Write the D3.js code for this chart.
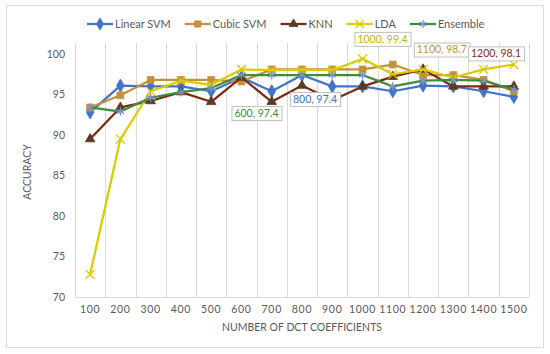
<!DOCTYPE html>
<html>
<head>
<meta charset="utf-8">
<script src="https://cdn.jsdelivr.net/npm/d3@7"></script>
<style>
  html, body { margin: 0; padding: 0; background: #fff; }
  svg { display: block; font-family: Lato, "Liberation Sans", sans-serif; }
</style>
</head>
<body>
<div id="chart"></div>
<script>
// data
const coefficients = [100, 200, 300, 400, 500, 600, 700, 800, 900, 1000, 1100, 1200, 1300, 1400, 1500];
const linearSVM = [92.8, 96.1, 96.0, 96.0, 95.4, 97.1, 95.4, 97.4, 96.0, 96.0, 95.4, 96.1, 96.0, 95.4, 94.7];
const cubicSVM = [93.4, 94.9, 96.8, 96.8, 96.8, 96.6, 98.1, 98.1, 98.1, 98.1, 98.7, 97.4, 97.4, 96.8, 95.4];
const knn = [89.5, 93.4, 94.2, 95.3, 94.1, 97.1, 94.1, 96.1, 94.3, 96.0, 97.2, 98.1, 96.0, 96.0, 96.0];
const lda = [72.8, 89.5, 95.4, 96.7, 96.2, 98.1, 98.0, 98.0, 98.0, 99.4, 97.5, 98.1, 97.1, 98.1, 98.7];
const ensemble = [93.4, 92.9, 94.6, 95.3, 95.8, 97.4, 97.4, 97.4, 97.4, 97.4, 96.0, 96.7, 96.8, 96.7, 95.6];
const yTicks = [70, 75, 80, 85, 90, 95, 100];

const series = [
  { name: "Linear SVM", values: linearSVM, line: "#4472C4", marker: "#4472C4", symbol: d3.symbolDiamond, size: 50, stroke: false },
  { name: "Cubic SVM", values: cubicSVM, line: "#C4913A", marker: "#C4913A", symbol: d3.symbolSquare, size: 46, stroke: false },
  { name: "KNN", values: knn, line: "#7A2A14", marker: "#5A3A22", symbol: d3.symbolTriangle, size: 40, stroke: false },
  { name: "LDA", values: lda, line: "#DCCB00", marker: "#DCCB00", symbol: d3.symbolTimes, size: 52, stroke: true },
  { name: "Ensemble", values: ensemble, line: "#3C8C3C", marker: "#7B93CC", symbol: d3.symbolAsterisk, size: 52, stroke: true },
];

// manual data labels (series, category, label offset from the point)
const callouts = [
  { series: "LDA", at: 1000, dx: 20, dy: -20, color: "#C8B400" },
  { series: "Cubic SVM", at: 1100, dx: 49, dy: -15, color: "#C4913A" },
  { series: "KNN", at: 1200, dx: 73, dy: -16, color: "#8B2A1A" },
  { series: "Ensemble", at: 600, dx: 15, dy: 38, color: "#3C8C3C" },
  { series: "Linear SVM", at: 800, dx: 13, dy: 24, color: "#4472C4" },
];

const W = 550, H = 354;
const plot = { left: 75, right: 529, top: 43, bottom: 297 };

const svg = d3.select("#chart").append("svg").attr("width", W).attr("height", H);

svg.append("rect")
  .attr("x", 6.5).attr("y", 5.5)
  .attr("width", 537).attr("height", 342)
  .attr("fill", "#fff").attr("stroke", "#D9D9D9");

const x = d3.scaleBand().domain(coefficients).range([plot.left, plot.right]);
const y = d3.scaleLinear().domain([70, 100]).range([plot.bottom, 54]);
const cx = (c) => x(c) + x.bandwidth() / 2;

// vertical gridlines at category boundaries
const bounds = coefficients.map((c) => x(c)).concat([plot.right]);
svg.append("g")
  .selectAll("line")
  .data(bounds)
  .join("line")
  .attr("x1", (d) => Math.round(d) + 0.5).attr("x2", (d) => Math.round(d) + 0.5)
  .attr("y1", plot.top).attr("y2", plot.bottom)
  .attr("stroke", "#D9D9D9").attr("stroke-width", 1);

svg.append("line")
  .attr("x1", plot.left).attr("x2", plot.right)
  .attr("y1", plot.bottom + 0.5).attr("y2", plot.bottom + 0.5)
  .attr("stroke", "#D9D9D9");

// x axis labels
const xAxis = svg.append("g")
  .attr("transform", `translate(0,${plot.bottom})`)
  .call(d3.axisBottom(x).tickSize(0).tickPadding(9));
xAxis.select(".domain").remove();
xAxis.selectAll("text")
  .attr("fill", "#595959")
  .style("font-family", "Lato, sans-serif")
  .style("font-size", "10.5px")
  .style("letter-spacing", "0.7px");

// y axis labels
const yAxis = svg.append("g")
  .attr("transform", `translate(${plot.left},0)`)
  .call(d3.axisLeft(y).tickValues(yTicks).tickSize(0).tickPadding(10));
yAxis.select(".domain").remove();
yAxis.selectAll("text")
  .attr("fill", "#595959")
  .style("font-family", "Lato, sans-serif")
  .style("font-size", "10.5px");

// axis titles
svg.append("text")
  .attr("x", (plot.left + plot.right) / 2)
  .attr("y", 331)
  .attr("text-anchor", "middle")
  .attr("fill", "#595959")
  .style("font-size", "10.5px")
  .text("NUMBER OF DCT COEFFICIENTS");

svg.append("text")
  .attr("transform", `translate(31,${(plot.top + plot.bottom) / 2 + 2}) rotate(-90)`)
  .attr("text-anchor", "middle")
  .attr("fill", "#595959")
  .style("font-size", "10.5px")
  .text("ACCURACY");

// lines + markers
const line = d3.line().x((d, i) => cx(coefficients[i])).y((d) => y(d));
const symbolPath = (s, k = 1) => d3.symbol().type(s.symbol).size(s.size * k)();

series.forEach((s) => {
  const g = svg.append("g");
  g.append("path")
    .datum(s.values)
    .attr("d", line)
    .attr("fill", "none")
    .attr("stroke", s.line)
    .attr("stroke-width", 2.25)
    .attr("stroke-linejoin", "round");
  g.selectAll("path.mk")
    .data(s.values)
    .join("path")
    .attr("class", "mk")
    .attr("transform", (d, i) => `translate(${cx(coefficients[i])},${y(d)})`)
    .attr("d", symbolPath(s))
    .attr("fill", s.stroke ? "none" : s.marker)
    .attr("stroke", s.marker)
    .attr("stroke-width", s.stroke ? 1.3 : 0.8);
});

// callout labels
callouts.forEach((c) => {
  const s = series.find((d) => d.name === c.series);
  const i = coefficients.indexOf(c.at);
  const v = s.values[i];
  const px = cx(c.at) + c.dx, py = y(v) + c.dy;
  const g = svg.append("g").attr("transform", `translate(${px},${py})`);
  const t = g.append("text")
    .attr("text-anchor", "middle")
    .attr("dy", "0.35em")
    .attr("fill", c.color)
    .style("font-size", "10.5px")
    .text(`${c.at}, ${v}`);
  const b = t.node().getBBox();
  g.insert("rect", "text")
    .attr("x", Math.round(b.x - 3) + 0.5)
    .attr("y", Math.round(b.y - 1) + 0.5)
    .attr("width", Math.round(b.width + 6))
    .attr("height", Math.round(b.height + 2))
    .attr("fill", "#fff")
    .attr("stroke", "#BFBFBF");
});

// legend
const legend = svg.append("g").attr("transform", "translate(0,24)");
let lx = 0;
const items = legend.selectAll("g").data(series).join("g");
items.each(function (s) {
  const g = d3.select(this);
  g.append("line").attr("x1", 0).attr("x2", 26).attr("stroke", s.line).attr("stroke-width", 2.25);
  g.append("path")
    .attr("transform", "translate(13,0)")
    .attr("d", symbolPath(s, 0.85))
    .attr("fill", s.stroke ? "none" : s.marker)
    .attr("stroke", s.marker)
    .attr("stroke-width", s.stroke ? 1.3 : 0.8);
  const t = g.append("text")
    .attr("x", 28).attr("dy", "0.35em")
    .attr("fill", "#595959")
    .style("font-size", "11px")
    .text(s.name);
  g.attr("transform", `translate(${lx},0)`);
  lx += 28 + t.node().getComputedTextLength() + 14;
});
legend.attr("transform", `translate(${Math.round(286 - (lx - 14) / 2)},24)`);
</script>
</body>
</html>
